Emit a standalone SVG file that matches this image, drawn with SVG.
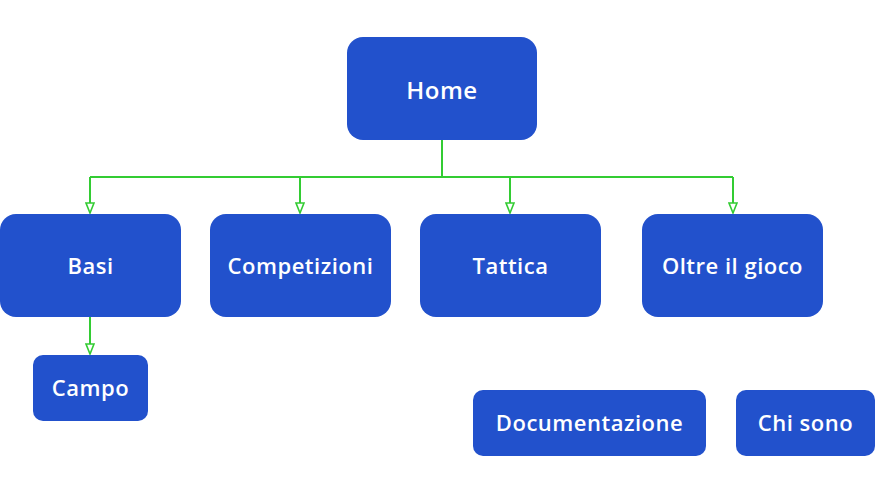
<svg xmlns="http://www.w3.org/2000/svg" width="887" height="490" viewBox="0 0 887 490">
<defs>
<style>
.box{fill:#2251cc;}
.lbl{fill:#ffffff;font-family:"Open Sans","Lato",sans-serif;font-size:22px;font-weight:600;letter-spacing:0.5px;text-anchor:middle;dominant-baseline:central;}
.edge{fill:none;stroke:#33cc33;stroke-width:2;}
</style>
<marker id="arr" viewBox="0 0 12 10" refX="11" refY="5" markerWidth="12" markerHeight="10" markerUnits="userSpaceOnUse" orient="auto">
<path d="M1,1 L11,5 L1,9 Z" fill="#ffffff" stroke="#33cc33" stroke-width="1.6"/>
</marker>
</defs>
<rect width="887" height="490" fill="#ffffff"/>
<g id="connectors">
<path class="edge" d="M442,140 V177"/>
<path class="edge" d="M90,177 H733"/>
<path class="edge" d="M90,177 V213" marker-end="url(#arr)"/>
<path class="edge" d="M300,177 V213" marker-end="url(#arr)"/>
<path class="edge" d="M510,177 V213" marker-end="url(#arr)"/>
<path class="edge" d="M733,177 V213" marker-end="url(#arr)"/>
<path class="edge" d="M90,317 V354" marker-end="url(#arr)"/>
</g>
<g id="home"><rect class="box" x="347" y="37" width="190" height="103" rx="16"/><text class="lbl" x="442" y="89" style="font-size:24px">Home</text></g>
<g id="basi"><rect class="box" x="0" y="214" width="181" height="103" rx="16"/><text class="lbl" x="90.5" y="265">Basi</text></g>
<g id="competizioni"><rect class="box" x="210" y="214" width="181" height="103" rx="16"/><text class="lbl" x="300.5" y="265">Competizioni</text></g>
<g id="tattica"><rect class="box" x="420" y="214" width="181" height="103" rx="16"/><text class="lbl" x="510.5" y="265">Tattica</text></g>
<g id="oltre"><rect class="box" x="642" y="214" width="181" height="103" rx="16"/><text class="lbl" x="732.5" y="265">Oltre il gioco</text></g>
<g id="campo"><rect class="box" x="33" y="355" width="115" height="66" rx="10"/><text class="lbl" x="90.5" y="387">Campo</text></g>
<g id="documentazione"><rect class="box" x="473" y="390" width="233" height="66" rx="10"/><text class="lbl" x="589.5" y="422">Documentazione</text></g>
<g id="chisono"><rect class="box" x="736" y="390" width="139" height="66" rx="10"/><text class="lbl" x="805.5" y="422">Chi sono</text></g>
</svg>
